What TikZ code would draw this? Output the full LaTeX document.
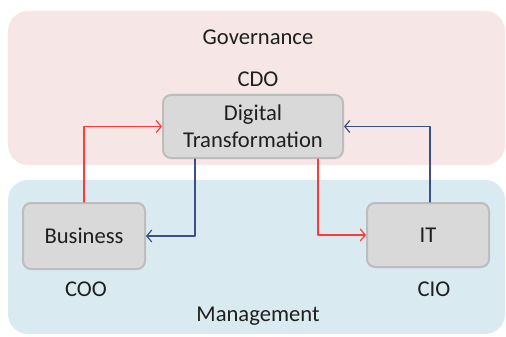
\documentclass[tikz,border=0pt]{standalone}
\usepackage{fontspec}
\setmainfont{Carlito}
\usetikzlibrary{arrows.meta,positioning}

\definecolor{govfill}{HTML}{F6E6E6}
\definecolor{mgmtfill}{HTML}{DAEAF1}
\definecolor{boxfill}{HTML}{D9D9D9}
\definecolor{boxline}{HTML}{BDBDBD}
\definecolor{flowred}{HTML}{FF3A3A}
\definecolor{flowblue}{HTML}{3B4F88}

\tikzset{
  unit/.style={draw=boxline, line width=1pt, fill=boxfill, rounded corners=4pt, align=center, inner sep=0pt},
  role/.style={inner sep=0pt},
  redflow/.style={draw=flowred, line width=0.6pt, -{Straight Barb[length=2.5pt,width=6pt]}},
  blueflow/.style={draw=flowblue, line width=0.6pt, -{Straight Barb[length=2.5pt,width=6pt]}},
}

\begin{document}
\begin{tikzpicture}[x=0.5pt,y=-0.5pt,line cap=round,line join=round,
  every node/.append style={font=\fontsize{11.3}{13.5}\selectfont, text=black!88}]
  \useasboundingbox (0,0) rectangle (506,336);
  % the two layers
  \fill[govfill, rounded corners=10pt] (8,11) rectangle (505,165);
  \fill[mgmtfill, rounded corners=10pt] (8,180) rectangle (505,334);
  \node[role] (gov) at (258,37) {Governance};
  \node[role] (mgmt) at (258,316) {Management};

  % units
  \node[unit, minimum width=90pt, minimum height=31.5pt] (dt) at (253,126.5) {Digital\\Transformation};
  \node[unit, minimum width=61pt, minimum height=33pt] (biz) at (84,236) {Business};
  \node[unit, minimum width=61pt, minimum height=32pt] (it) at (428,235) {IT};

  % who owns what
  \node[role] (cdo) at (258,79) {CDO};
  \node[role] (coo) at (86,289) {COO};
  \node[role] (cio) at (434,289) {CIO};

  % flows
  \draw[redflow] (biz.north) |- (dt.west);
  \draw[blueflow] ([xshift=-29pt]dt.south) |- (biz.east);
  \draw[redflow] ([xshift=32.5pt]dt.south) |- (it.west);
  \draw[blueflow] ([xshift=1pt]it.north) |- (dt.east);
\end{tikzpicture}
\end{document}
